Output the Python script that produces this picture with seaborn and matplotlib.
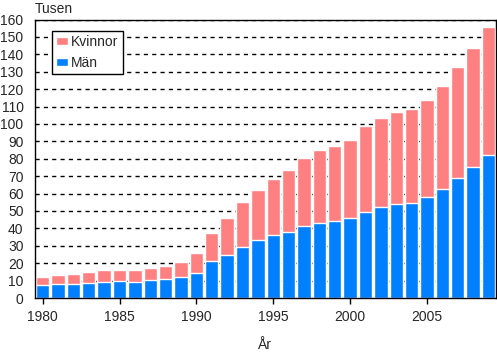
import matplotlib
matplotlib.use("Agg")
import matplotlib.pyplot as plt
import seaborn as sns
import pandas as pd

years = list(range(1980, 2010))
totals = [12.2, 13.4, 13.9, 15.1, 16.3, 16.3, 16.3, 17.4, 18.5, 20.8,
          26.0, 37.4, 46.1, 55.3, 62.2, 68.4, 73.7, 80.6, 85.2, 87.5,
          90.9, 99.0, 103.6, 107.0, 108.8, 113.9, 122.0, 132.9, 143.8, 155.9]
man = [7.3, 7.8, 7.9, 8.4, 9.0, 9.6, 9.4, 10.1, 10.9, 11.9,
       14.6, 21.0, 24.9, 29.5, 33.1, 36.0, 38.1, 41.2, 43.3, 44.0,
       45.8, 49.2, 52.1, 53.8, 54.4, 57.9, 62.4, 68.8, 75.1, 82.0]
kvinnor = [round(t - m, 1) for t, m in zip(totals, man)]
yticks = list(range(0, 161, 10))
xtick_years = [1980, 1985, 1990, 1995, 2000, 2005]

df = pd.DataFrame({"År": [str(y) for y in years], "Män": man, "Kvinnor": kvinnor})
df["Total"] = df["Män"] + df["Kvinnor"]

sns.set_style("white")
plt.rcParams["font.family"] = ["Liberation Sans", "DejaVu Sans"]
FS = 10

fig = plt.figure(figsize=(4.97, 3.52), dpi=100)
ax = fig.add_axes([34.7 / 497, 1 - 298 / 352, 461 / 497, 278.5 / 352])

pink = "#FF8080"
blue = "#0080FF"
sns.barplot(data=df, x="År", y="Total", color=pink, width=0.87, edgecolor="white",
            linewidth=1, label="Kvinnor", ax=ax, saturation=1)
sns.barplot(data=df, x="År", y="Män", color=blue, width=0.87, edgecolor="white",
            linewidth=1, label="Män", ax=ax, saturation=1)

ax.set_ylim(0, 160)
ax.set_xlim(-0.52, 29.47)
ax.set_yticks(yticks)
ax.set_yticklabels([str(v) for v in yticks], fontsize=FS)
pos = [years.index(y) for y in xtick_years]
ax.set_xticks(pos)
ax.set_xticklabels([str(y) for y in xtick_years], fontsize=FS)
ax.tick_params(axis="y", length=0, pad=8)
ax.tick_params(axis="x", length=4.5, width=1, color="black", pad=4, direction="out", bottom=True)

ax.yaxis.grid(True, linestyle=(0, (3, 3)), color="black", linewidth=1)
ax.xaxis.grid(False)
ax.set_axisbelow(True)
for s in ax.spines.values():
    s.set_visible(True)
    s.set_color("black")
    s.set_linewidth(1)

ax.set_ylabel("")
ax.set_xlabel("År", fontsize=FS, labelpad=10)
fig.text(35 / 497, 1 - 9 / 352, "Tusen", fontsize=FS, ha="left", va="center")

leg = ax.legend(loc="upper left", bbox_to_anchor=(0.038, 0.958), borderaxespad=0,
                fancybox=False, edgecolor="black", framealpha=1, fontsize=FS,
                handlelength=0.85, handleheight=0.5, handletextpad=0.2,
                labelspacing=0.45, borderpad=0.3)
leg.get_frame().set_linewidth(1)

fig.savefig("out.png", dpi=100, facecolor="white")
